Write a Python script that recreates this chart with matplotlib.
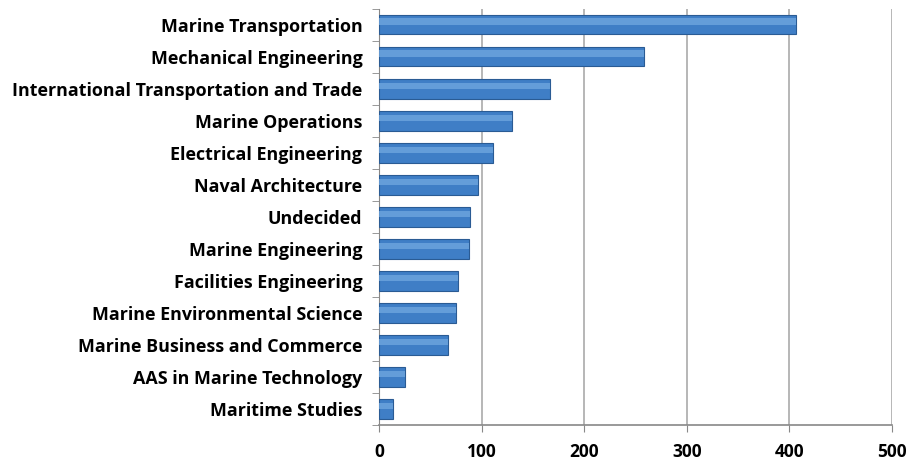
import matplotlib.pyplot as plt
import numpy as np

majors = ["Marine Transportation", "Mechanical Engineering",
          "International Transportation and Trade", "Marine Operations",
          "Electrical Engineering", "Naval Architecture", "Undecided",
          "Marine Engineering", "Facilities Engineering",
          "Marine Environmental Science", "Marine Business and Commerce",
          "AAS in Marine Technology", "Maritime Studies"]
students = [406, 258, 167, 130, 111, 96, 89, 88, 77, 75, 67, 25, 14]
xticks = [0, 100, 200, 300, 400, 500]

plt.rcParams['font.family'] = ['Open Sans', 'DejaVu Sans']

fig = plt.figure(figsize=(9.16, 4.68), dpi=100)
ax = fig.add_axes([0.4138, 0.092, 0.56, 0.889])

ypos = np.arange(len(majors))
# main bar plus a lighter band on top to fake the glossy look
ax.barh(ypos, students, height=0.6, color='#3f7ec6', edgecolor='#2a5b94',
        linewidth=0.8, zorder=3)
ax.barh(ypos - 0.1, students, height=0.2, color='#6ea6de', linewidth=0,
        alpha=0.8, zorder=4)

ax.set_xlim(0, 500)
ax.set_ylim(len(majors) - 0.5, -0.5)
ax.set_xticks(xticks)
ax.set_xticklabels([str(v) for v in xticks], fontweight='bold', fontsize=12.5)
ax.set_yticks(ypos)
ax.set_yticklabels(majors, fontweight='bold', fontsize=12.9)
ax.set_yticks(np.arange(len(majors) + 1) - 0.5, minor=True)

ax.tick_params(axis='y', which='major', length=0, pad=12)
ax.tick_params(axis='y', which='minor', length=5, color='#888888',
               direction='out')
ax.tick_params(axis='x', length=5, color='#888888', direction='out', pad=8)

ax.grid(axis='x', color='#aaaaaa', linewidth=1.2, zorder=0)
for s in ['top', 'right']:
    ax.spines[s].set_visible(False)
ax.spines['left'].set_color('#888888')
ax.spines['bottom'].set_color('#888888')
ax.spines['bottom'].set_linewidth(1.2)

fig.savefig('out.png', dpi=100)
